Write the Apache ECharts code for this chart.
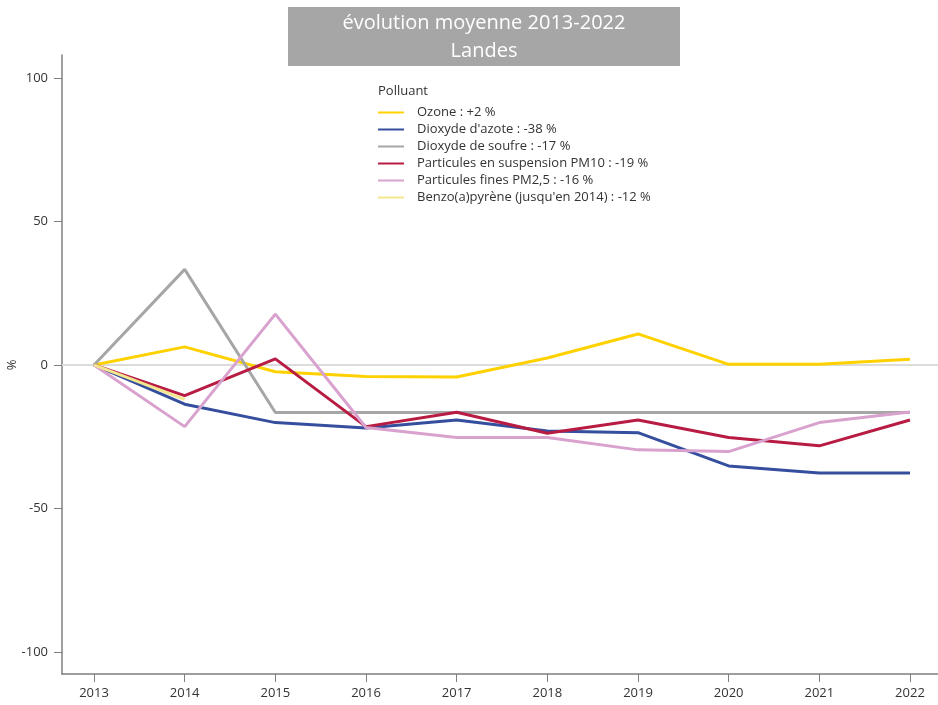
<!DOCTYPE html>
<html><head><meta charset="utf-8">
<script src="https://cdn.jsdelivr.net/npm/echarts@6/dist/echarts.min.js"></script>
<style>html,body{margin:0;padding:0;background:#fff}#c{width:938px;height:705px}</style>
</head><body><div id="c"></div>
<script>
const years = [2013,2014,2015,2016,2017,2018,2019,2020,2021,2022];
const yTicks = [-100,-50,0,50,100];
const seriesNames = [
  "Ozone : +2 %",
  "Dioxyde d'azote : -38 %",
  "Dioxyde de soufre : -17 %",
  "Particules en suspension PM10 : -19 %",
  "Particules fines PM2,5 : -16 %",
  "Benzo(a)pyrène (jusqu'en 2014) : -12 %"
];
const ozone = [0, 6.3, -2.4, -4, -4.2, 2.4, 10.8, 0.2, 0.2, 2];
const no2 = [0, -13.7, -20.1, -22, -19.2, -23, -23.6, -35.2, -37.7, -37.7];
const so2 = [0, 33.3, -16.6, -16.6, -16.6, -16.6, -16.6, -16.6, -16.6, -16.6];
const pm10 = [0, -10.7, 2.1, -21.5, -16.5, -23.8, -19.2, -25.3, -28.2, -19.2];
const pm25 = [0, -21.5, 17.7, -21.8, -25.3, -25.3, -29.6, -30.2, -20.1, -16.4];
const bap = [0, -12];
const colors = ['#FFD100', '#354E9E', '#A6A6A6', '#B81C43', '#D9A1CD', '#F2E68F'];
const allData = [ozone, no2, so2, pm10, pm25, bap];

const font = '"Open Sans", "Noto Sans", sans-serif';
const chart = echarts.init(document.getElementById('c'), null, {renderer: 'canvas'});
const series = allData.map((d, i) => ({
  name: seriesNames[i],
  type: 'line',
  data: d.map((v, j) => [years[j], v]),
  symbol: 'none',
  lineStyle: {width: 3, color: colors[i]},
  itemStyle: {color: colors[i]},
  z: 3 + i
}));
series[0].markLine = {
  silent: true, symbol: 'none', label: {show: false},
  lineStyle: {color: '#dcdcdc', width: 2, type: 'solid'},
  data: [{yAxis: 0}], z: 1
};
chart.setOption({
  animation: false,
  textStyle: {fontFamily: font},
  grid: {left: 62, right: 0, top: 55, bottom: 31, containLabel: false, outerBoundsMode: 'none'},
  xAxis: {
    type: 'value', min: 2012.647, max: 2022.309,
    axisLine: {onZero: false, lineStyle: {color: '#7f7f7f', width: 1.5}},
    axisTick: {show: true, length: 8, customValues: years, lineStyle: {color: '#7f7f7f'}},
    axisLabel: {customValues: years, color: '#333', fontSize: 13, margin: 13, fontFamily: font, formatter: v => String(v)},
    splitLine: {show: false}
  },
  yAxis: {
    type: 'value', min: -107.7, max: 108,
    axisLine: {show: true, onZero: false, lineStyle: {color: '#7f7f7f', width: 1.5}},
    axisTick: {show: true, length: 8, customValues: yTicks, lineStyle: {color: '#7f7f7f'}},
    axisLabel: {customValues: yTicks, color: '#333', fontSize: 13, margin: 14, fontFamily: font},
    splitLine: {show: false}
  },
  legend: {
    orient: 'vertical', left: 373, top: 101,
    itemWidth: 26, itemHeight: 2, itemGap: 4,
    icon: 'rect',
    textStyle: {color: '#333', fontSize: 13, fontFamily: font, padding: [0,0,0,8]},
    data: seriesNames
  },
  graphic: [
    {type: 'rect', shape: {x: 288, y: 7, width: 392, height: 59}, style: {fill: '#A6A6A6'}},
    {type: 'text', style: {x: 484, y: 23, text: 'évolution moyenne 2013-2022', fill: '#fff', font: '20px ' + font, textAlign: 'center', textVerticalAlign: 'middle'}},
    {type: 'text', style: {x: 484, y: 51, text: 'Landes', fill: '#fff', font: '20px ' + font, textAlign: 'center', textVerticalAlign: 'middle'}},
    {type: 'text', style: {x: 378, y: 91, text: 'Polluant', fill: '#333', font: '13px ' + font, textVerticalAlign: 'middle'}},
    {type: 'text', x: 12, y: 365, rotation: Math.PI / 2, style: {x: 0, y: 0, text: '%', fill: '#333', font: '13px ' + font, textAlign: 'center', textVerticalAlign: 'middle'}}
  ],
  series: series
});
</script></body></html>
